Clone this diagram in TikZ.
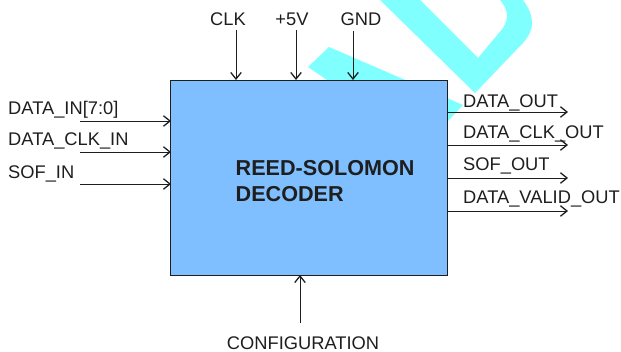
\documentclass[tikz,border=0pt]{standalone}
\usepackage{fontspec}
\setmainfont{Liberation Sans}
\usetikzlibrary{arrows.meta}
\definecolor{wm}{RGB}{128,255,255}
\definecolor{boxblue}{RGB}{128,191,255}
\definecolor{ln}{RGB}{30,30,30}
\tikzset{
  lbl/.style={inner sep=0pt,text=ln,font=\fontsize{18.3}{20}\selectfont},
  lblw/.style={lbl,anchor=base west},
  lblc/.style={lbl,anchor=base},
  ttl/.style={inner sep=0pt,anchor=base west,text=ln,font=\fontsize{21.6}{24}\selectfont\bfseries},
  sig/.style={draw=ln,line width=1pt,-{Straight Barb[length=6.5pt,width=10.5pt,line width=1.3pt]}},
  block/.style={draw=ln,line width=1pt,fill=boxblue}
}
\begin{document}
\begin{tikzpicture}[x=1pt,y=-1pt]
\useasboundingbox (0,0) rectangle (621,351);
% watermark
\fill[wm] (380,0) -- (475,93) -- (523,43) .. controls (537,27) and (533,14) .. (523,0)
  -- (500,0) .. controls (507,8) and (510,17) .. (503,28) -- (478,58) -- (420,0) -- cycle;
\fill[wm] (329,47) -- (463,105) -- (447,122) -- (400,130) -- (308,67) -- cycle;
% block
\node[block,minimum width=277pt,minimum height=195pt,inner sep=0pt,anchor=north west] (dec) at (170,80) {};
\node[ttl] (t1) at (235.5,175) {REED-SOLOMON};
\node[ttl] (t2) at (235.5,201) {DECODER};
% top
\node[lblc] (clk) at (228,25) {CLK};
\node[lblc] (v5) at (292,25) {+5V};
\node[lblc] (gnd) at (361,25) {GND};
\coordinate (clks) at (236,30); \coordinate (clke) at (236,80);
\coordinate (v5s) at (296,30); \coordinate (v5e) at (296,80);
\coordinate (gnds) at (353,31); \coordinate (gnde) at (353,80);
\draw[sig] (clks) -- (clke);
\draw[sig] (v5s) -- (v5e);
\draw[sig] (gnds) -- (gnde);
% left
\node[lblw] (di) at (8,114) {DATA\_IN[7:0]};
\node[lblw] (dc) at (8,145) {DATA\_CLK\_IN};
\node[lblw] (si) at (8,178) {SOF\_IN};
\coordinate (a1) at (80,121); \coordinate (a1e) at (171,121);
\coordinate (a2) at (80,152); \coordinate (a2e) at (171,152);
\coordinate (a3) at (80,184); \coordinate (a3e) at (171,184);
\draw[sig] (a1) -- (a1e);
\draw[sig] (a2) -- (a2e);
\draw[sig] (a3) -- (a3e);
% right
\node[lblw] (dout) at (463,107) {DATA\_OUT};
\node[lblw] (dco) at (463,138) {DATA\_CLK\_OUT};
\node[lblw] (so) at (463,170) {SOF\_OUT};
\node[lblw] (dvo) at (463,203) {DATA\_VALID\_OUT};
\coordinate (b1) at (447,112); \coordinate (b1e) at (568,112);
\coordinate (b2) at (447,145); \coordinate (b2e) at (568,145);
\coordinate (b3) at (447,178); \coordinate (b3e) at (568,178);
\coordinate (b4) at (447,211); \coordinate (b4e) at (568,211);
\draw[sig] (b1) -- (b1e);
\draw[sig] (b2) -- (b2e);
\draw[sig] (b3) -- (b3e);
\draw[sig] (b4) -- (b4e);
% bottom
\coordinate (cs) at (300,323); \coordinate (ce) at (300,275);
\draw[sig] (cs) -- (ce);
\node[lblc] (cfg) at (303,349) {CONFIGURATION};
\end{tikzpicture}
\end{document}
